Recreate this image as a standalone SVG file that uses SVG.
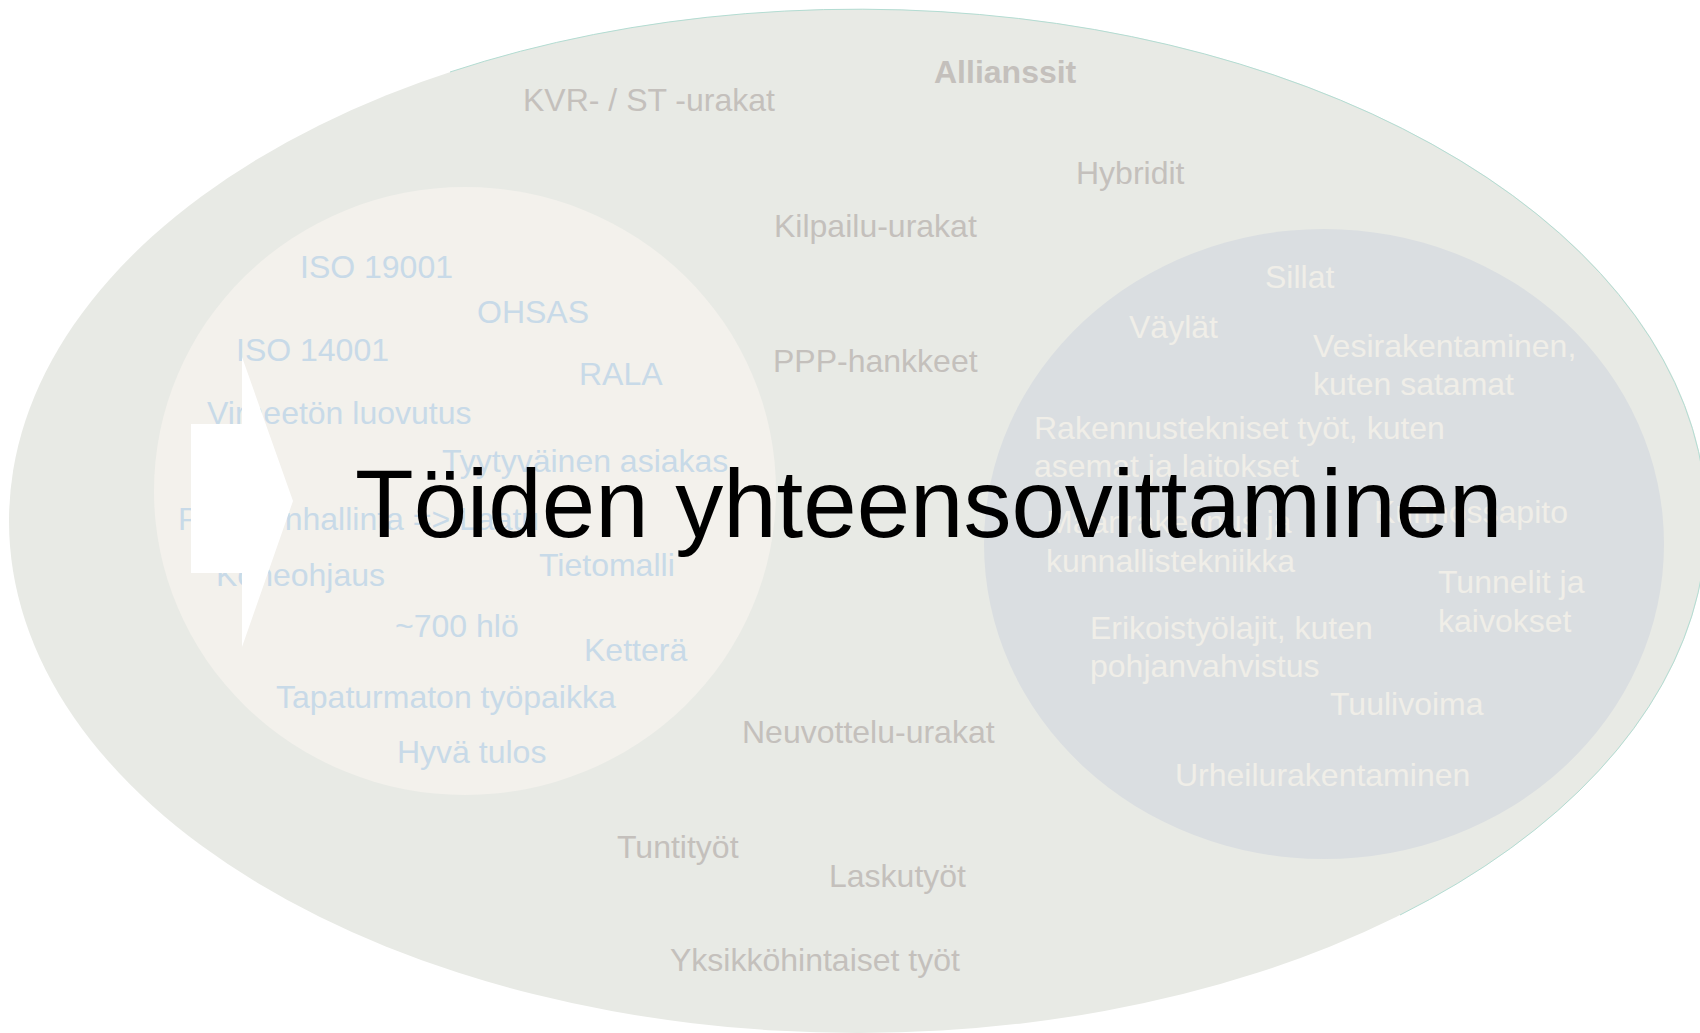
<svg xmlns="http://www.w3.org/2000/svg" width="1700" height="1033" viewBox="0 0 1700 1033">
<style>
text { font-family: "Liberation Sans", Arial, sans-serif; font-size: 32px; }
.g { fill: #C4C0BC; }
.b { fill: #C8DAE8; }
.w { fill: #F0EEE8; }
.title { font-size: 96px; fill: #000000; }
</style>
<rect width="1700" height="1033" fill="#FFFFFF"/>
<g id="outer">
  <ellipse cx="858" cy="521" rx="849" ry="512" fill="#E8EAE5"/>
  <path d="M 450 72 A 849 512 0 0 1 1400 915" fill="none" stroke="#B3DCD2" stroke-width="1"/>
  <text class="g" x="934" y="83" font-weight="bold">Allianssit</text>
  <text class="g" x="523" y="111">KVR- / ST -urakat</text>
  <text class="g" x="1076" y="184">Hybridit</text>
  <text class="g" x="774" y="237">Kilpailu-urakat</text>
  <text class="g" x="773" y="372">PPP-hankkeet</text>
  <text class="g" x="742" y="743">Neuvottelu-urakat</text>
  <text class="g" x="617" y="858">Tuntityöt</text>
  <text class="g" x="829" y="887">Laskutyöt</text>
  <text class="g" x="670" y="971">Yksikköhintaiset työt</text>
</g>
<g id="left-circle">
  <ellipse cx="465" cy="491" rx="311" ry="304" fill="#F3F1EC"/>
  <text class="b" x="300" y="278">ISO 19001</text>
  <text class="b" x="477" y="323">OHSAS</text>
  <text class="b" x="236" y="361">ISO 14001</text>
  <text class="b" x="579" y="385">RALA</text>
  <text class="b" x="207" y="424">Virheetön luovutus</text>
  <text class="b" x="442" y="472">Tyytyväinen asiakas</text>
  <text class="b" x="178" y="530">Projektinhallinta =&gt; Laatu</text>
  <text class="b" x="539" y="576">Tietomalli</text>
  <text class="b" x="216" y="586">Koneohjaus</text>
  <text class="b" x="395" y="637">~700 hlö</text>
  <text class="b" x="584" y="661">Ketterä</text>
  <text class="b" x="276" y="708">Tapaturmaton työpaikka</text>
  <text class="b" x="397" y="763">Hyvä tulos</text>
</g>
<g id="right-circle">
  <ellipse cx="1324" cy="544" rx="340" ry="315" fill="#DADEE1"/>
  <text class="w" x="1265" y="288">Sillat</text>
  <text class="w" x="1129" y="338">Väylät</text>
  <text class="w" x="1313" y="357">Vesirakentaminen,</text>
  <text class="w" x="1313" y="395">kuten satamat</text>
  <text class="w" x="1034" y="439">Rakennustekniset työt, kuten</text>
  <text class="w" x="1034" y="477">asemat ja laitokset</text>
  <text class="w" x="1374" y="523">Kunnossapito</text>
  <text class="w" x="1046" y="533">Maanrakennus ja</text>
  <text class="w" x="1046" y="572">kunnallistekniikka</text>
  <text class="w" x="1438" y="593">Tunnelit ja</text>
  <text class="w" x="1438" y="632">kaivokset</text>
  <text class="w" x="1090" y="639">Erikoistyölajit, kuten</text>
  <text class="w" x="1090" y="677">pohjanvahvistus</text>
  <text class="w" x="1330" y="715">Tuulivoima</text>
  <text class="w" x="1175" y="786">Urheilurakentaminen</text>
</g>
<g id="arrow">
  <polygon points="191,424 242,424 242,357 293,501 242,647 242,573 191,573" fill="#FFFFFF"/>
</g>
<g id="connectors"></g>
<g id="title">
  <text class="title" x="355" y="537">Töiden yhteensovittaminen</text>
</g>
</svg>
